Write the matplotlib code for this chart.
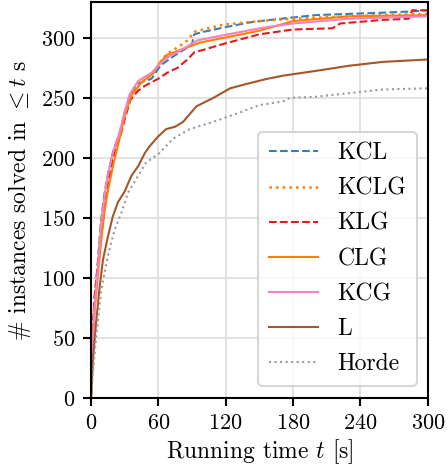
import matplotlib
matplotlib.use("Agg")
import matplotlib.pyplot as plt

plt.rcParams['font.family'] = 'serif'
plt.rcParams['font.serif'] = ['cmr10']
plt.rcParams['mathtext.fontset'] = 'cm'
plt.rcParams['axes.formatter.use_mathtext'] = True
plt.rcParams['font.size'] = 16

# solved instances over time
kcl_t = [0, 0.5, 1.5, 3, 6, 9, 12, 15, 20, 26, 30, 35, 42, 48, 54, 62, 74, 86, 90, 92, 100, 120, 142, 160, 180, 200, 230, 260, 285, 300]
kcl_y = [0, 30, 55, 80, 112, 148, 170, 186, 206, 222, 238, 253, 262, 264, 266, 277, 285, 292, 295, 303, 305, 309, 313, 315, 317, 319, 320, 321, 322, 323]

kclg_t = [0, 0.5, 1.5, 3, 6, 9, 12, 15, 20, 26, 30, 36, 44, 55, 61, 68, 77, 86, 92, 100, 118, 150, 180, 230, 260, 300]
kclg_y = [0, 32, 56, 80, 110, 145, 168, 185, 205, 222, 238, 252, 262, 270, 279, 287, 292, 298, 305, 307, 311, 314, 316, 318, 319, 320]

klg_t = [0, 0.5, 1.5, 3.5, 8, 14, 20, 27, 30, 35, 42, 48, 60, 68, 77, 86, 92, 100, 118, 150, 180, 215, 222, 260, 283, 286, 300]
klg_y = [0, 28, 52, 87, 126, 173, 201, 221, 232, 248, 256, 260, 266, 271, 275, 282, 288, 290, 295, 303, 307, 308, 312, 315, 316, 323, 323]

clg_t = [0, 0.5, 1.5, 3.5, 6, 9, 12, 15, 20, 26, 30, 36, 45, 55, 61, 68, 77, 97, 118, 150, 180, 230, 300]
clg_y = [0, 25, 48, 75, 100, 130, 155, 172, 195, 218, 235, 252, 263, 270, 279, 286, 289, 296, 300, 306, 314, 318, 319]

kcg_t = [0, 0.6, 1.7, 3.3, 6.2, 9.2, 12.2, 15, 19.5, 25.5, 30, 34.5, 42, 54, 60, 68.5, 77, 86, 95, 117, 150, 180, 230, 300]
kcg_y = [0, 30, 48, 76, 109, 146, 168, 185, 204, 221, 238, 253, 264, 271, 277, 284, 288, 293, 298, 302, 308, 312, 316, 318]

l_t = [0, 0.3, 1.7, 4.7, 7.7, 10.7, 15, 19.4, 24, 30, 36, 42, 48, 52.5, 60, 67, 75, 82, 94, 109, 124, 138, 156, 171, 201, 230, 260, 300]
l_y = [0, 2, 31, 64, 92, 115, 134, 151, 163, 172, 185, 193, 204, 210, 218, 224, 226, 230, 243, 250, 258, 261.5, 265.7, 268.5, 272.6, 276.8, 280, 282]

horde_t = [0, 0.5, 1.7, 4.7, 9.2, 15, 21, 27, 33, 42, 49, 61, 73, 88, 109, 133, 150, 171, 177, 201, 230, 260, 300]
horde_y = [0, 5, 20, 51, 90, 118, 140, 154, 171, 185, 196, 204, 216, 224, 230, 238, 244, 247, 250, 251, 254, 257, 258]

xticks = [0, 60, 120, 180, 240, 300]
yticks = [0, 50, 100, 150, 200, 250, 300]

fig = plt.figure(figsize=(4.48, 4.72), dpi=100)
ax = fig.add_axes([0.203, 0.157, 0.752, 0.839])

ax.plot(kcl_t, kcl_y, '--', color='#377eb8', lw=1.5, label='KCL')
ax.plot(kclg_t, kclg_y, ':', color='#ff7f00', lw=1.8, label='KCLG')
ax.plot(klg_t, klg_y, '--', color='#e41a1c', lw=1.5, label='KLG')
ax.plot(clg_t, clg_y, '-', color='#ff7f00', lw=1.5, label='CLG')
ax.plot(kcg_t, kcg_y, '-', color='#f781bf', lw=1.5, label='KCG')
ax.plot(l_t, l_y, '-', color='#a65628', lw=1.5, label='L')
ax.plot(horde_t, horde_y, ':', color='#999999', lw=1.5, label='Horde')

ax.set_xlim(0, 300)
ax.set_ylim(0, 330)
ax.set_xticks(xticks)
ax.set_yticks(yticks)
ax.grid(True, color='#dddddd', lw=1.2)
ax.set_axisbelow(True)
for s in ax.spines.values():
    s.set_linewidth(1.5)
ax.tick_params(width=1.5, length=6, pad=5)

ax.set_xlabel(r'Running time $t$ [s]', fontsize=17, labelpad=3)
ax.set_ylabel(r'# instances solved in $\leq t$ s', fontsize=17, labelpad=6)

leg = ax.legend(loc='lower right', fontsize=17, handlelength=2.1, labelspacing=0.55,
                handletextpad=0.8, borderpad=0.45, borderaxespad=0, fancybox=True,
                framealpha=0.8, bbox_to_anchor=(0.967, 0.03))
leg.get_frame().set_edgecolor('#cccccc')
leg.get_frame().set_linewidth(1.5)

fig.savefig('out.png', dpi=100)
